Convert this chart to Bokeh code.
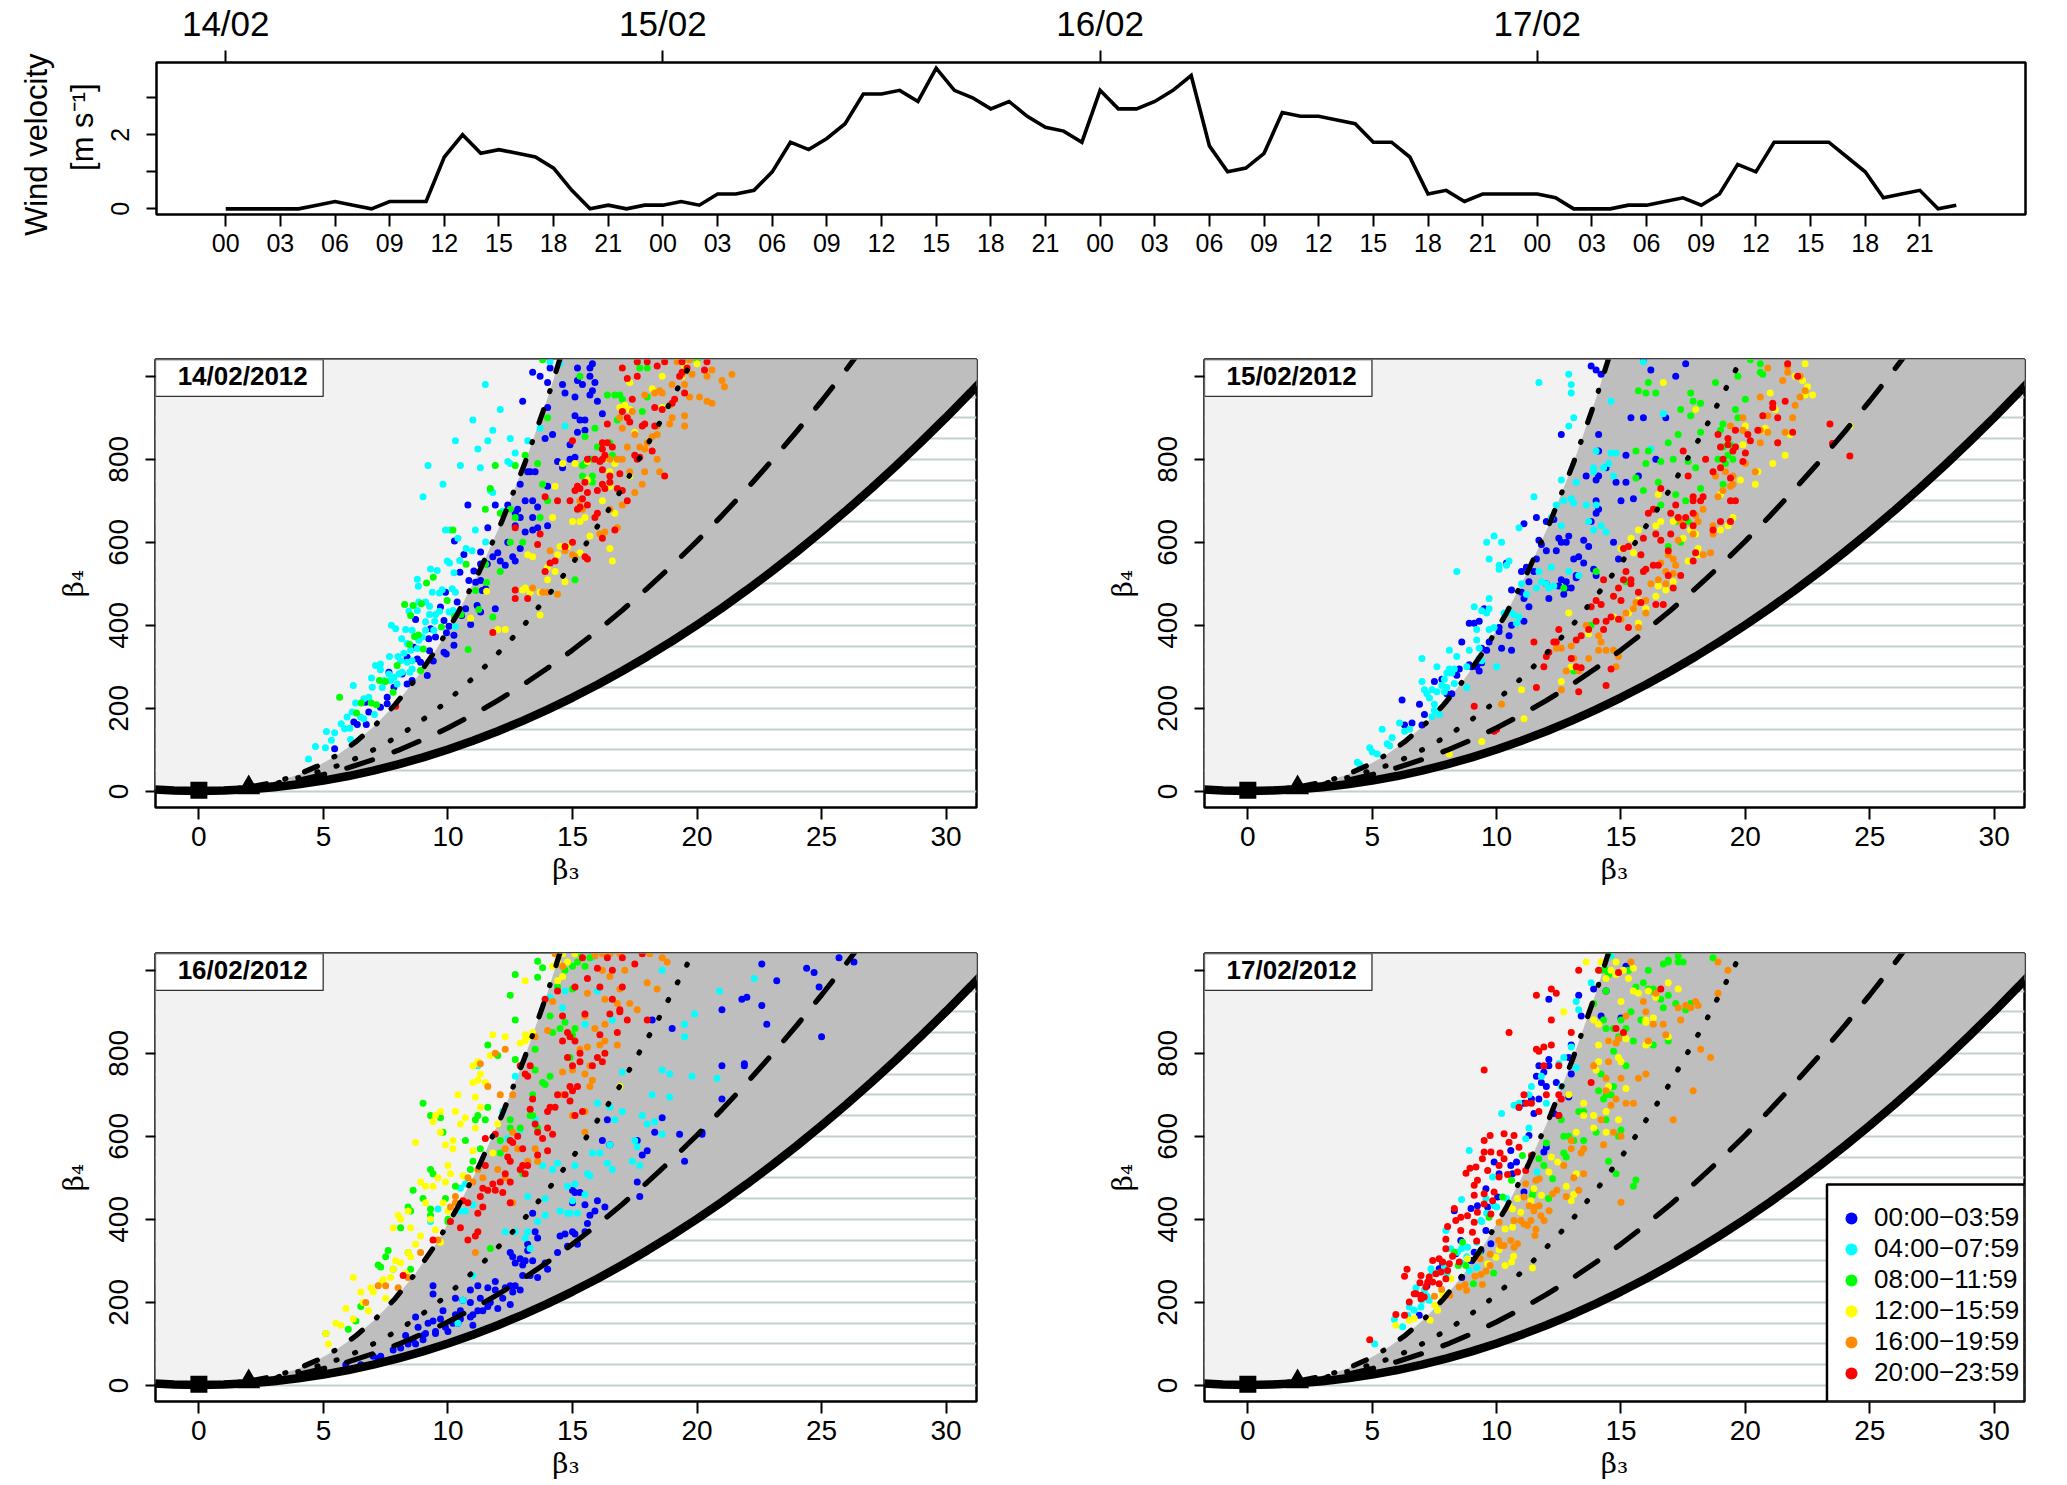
from bokeh.plotting import figure
from bokeh.models import Range1d, FixedTicker, LinearAxis, Label, Legend, LegendItem, Title
from bokeh.layouts import column, row
from bokeh.embed import file_html
from bokeh.resources import INLINE

# ---------- wind ----------
HOURS = list(range(96))
WIND = [0,0,0,0,0,.1,.2,.1,0,.2,.2,.2,1.4,2.0,1.5,1.6,1.5,1.4,1.1,.5,0,.1,0,.1,
        .1,.2,.1,.4,.4,.5,1.0,1.8,1.6,1.9,2.3,3.1,3.1,3.2,2.9,3.8,3.2,3.0,2.7,2.9,2.5,2.2,2.1,1.8,
        3.2,2.7,2.7,2.9,3.2,3.6,1.7,1.0,1.1,1.5,2.6,2.5,2.5,2.4,2.3,1.8,1.8,1.4,.4,.5,.2,.4,.4,.4,
        .4,.3,0,0,0,.1,.1,.2,.3,.1,.4,1.2,1.0,1.8,1.8,1.8,1.8,1.4,1.0,.3,.4,.5,0,.1]
HOUR_TICKS = list(range(0, 96, 3))
HOUR_LABELS = ["00","03","06","09","12","15","18","21"] * 4
DAY_TICKS = [0, 24, 48, 72]
DAY_LABELS = ["14/02", "15/02", "16/02", "17/02"]
WIND_TICKS = [0, 1, 2, 3]
PANEL_TITLES = ["14/02/2012", "15/02/2012", "16/02/2012", "17/02/2012"]
GROUPS = ["00:00\u221203:59","04:00\u221207:59","08:00\u221211:59","12:00\u221215:59","16:00\u221219:59","20:00\u221223:59"]
COLORS = ["#0000FF","#00FFFF","#00FF00","#FFFF00","#FF8C00","#FF0000"]

# ---------- reference curves ----------
BOUND_X = list(range(-2, 34))
BOUND_Y = [5,2,1,2,5,10,17,26,37,50,65,82,101,122,145,170,197,226,257,290,325,362,401,442,485,530,577,626,677,730,785,842,901,962,1025,1090]
LOGN_X = [0,.98,1.431,2.15,2.789,3.399,4,4.752,5.511,6.284,7.071,7.875,8.696,9.535,10.392,11.267,12.16,13.07,14,14.95]
LOGN_Y = [3,4.756,6.85,12.21,19.43,28.88,41,60.6,86.06,118.47,159,208.9,269.6,342.4,429,531,650,788,947,1129]
GAMMA_X = list(range(0, 28))
GAMMA_Y = [3,4.5,9,16.5,27,40.5,57,76.5,99,124.5,153,184.5,219,256.5,297,340.5,387,436.5,489,544.5,603,664.5,729,796.5,867,940.5,1017,1096.5]
DOT_X = [0,1,2,3,4,5,5.89,6.6,7.3,8,8.66,9.3,9.95,10.5,11.1,11.66,12.2,12.75,13.27,13.76,14.26,14.73,15.2,15.64,16.06,16.5,16.93,17.33,17.72,18.12,18.5,18.86,19.23,19.6,20]
DOT_Y = [3,5,10,18,33,51,68,88,109,133,159,186,216,246,278,311,345,380,416,453,490,528,566,605,644,683,724,765,806,847,888,930,972,1014,1058]
HATCH = list(range(0, 1000, 50))
MARK_X = [0]; MARK_Y = [3]
TRI_X = [2]; TRI_Y = [9]

# ---------- panel A: 14/02 ----------
A_CYAN = [(4.4,78),(4.68,108),(5.08,105),(5.32,123),(5.12,144),(5.45,141),(6.09,125),(5.71,163),(5.85,151),(6.06,152),(5.95,179),(6.15,191),(6.29,213),(6.2,255),(6.62,175),(6.49,179),(7.05,185),(6.62,223),(6.82,227),(6.93,273),(6.96,251),(7.36,250),(7.43,267),(7.09,303),(7.29,307),(7.29,293),(7.65,325),(7.99,325),(8.1,315),(8.23,333),(7.63,283),(7.83,275),(8.03,283),(8.16,287),(8.47,287),(8.56,295),(8.36,311),(8.56,315),(7.96,259),(7.69,267),(8.14,368),(8.36,356),(8.5,340),(8.77,344),(8.83,364),(8.97,372),(9.1,388),(9.43,388),(7.9,392),(7.73,400),(8.3,390),(8.56,388),(9.1,409),(9.26,426),(9.47,410),(9.5,426),(9.66,434),(10.04,432),(10.21,436),(8.43,434),(8.77,436),(9.26,446),(8.83,456),(9.1,456),(9.37,480),(9.66,478),(9.77,486),(10.17,488),(10.3,480),(8.77,511),(8.81,494),(9.3,536),(9.57,532),(9.97,555),(10.06,550),(10.24,527),(10.47,556),(10.73,585),(10.97,580),(11.51,601),(10.3,397),(9.9,630),(10.1,630),(10.4,610),(11.1,630),(9,710),(9.8,740),(9.2,785),(10.5,785),(11.3,780),(12.5,790),(10.3,845),(11.2,825),(11.6,845),(11.8,870),(12.5,850),(11,895),(12.1,920),(11.5,980),(12.7,815),(12.4,795),(11.8,720),(11.7,725),(12.2,675),(13.2,845),(13.7,875),(14.7,880),(14.5,1030),(14.1,1035)]
A_BLUE = [(5.45,103),(6.36,161),(6.72,161),(6.22,167),(6.82,191),(7.29,203),(7.56,211),(6.69,215),(7.63,287),(7.83,251),(7.56,227),(8.36,259),(8.56,267),(8.36,323),(8.16,283),(9.17,279),(9.41,314),(8.77,319),(8.9,311),(8.63,347),(9.26,339),(9.84,335),(9.93,331),(10.24,352),(8.7,414),(9.7,444),(9.84,412),(10.04,398),(9.94,382),(10.24,376),(9.3,392),(9.23,368),(9.5,372),(9.9,480),(10.37,456),(10.71,440),(10.55,424),(10.91,402),(11.17,448),(11.31,432),(10.64,571),(10.48,528),(11.04,531),(10.84,508),(11.11,504),(11.31,508),(11.51,488),(11.38,484),(10.26,603),(11.31,577),(11.58,548),(11.31,548),(11.9,440),(11.8,565),(12,575),(12.1,555),(12.3,545),(12.6,565),(12.7,555),(11.6,635),(12.4,600),(12.9,585),(12.7,640),(13.1,625),(13.4,630),(13.6,635),(14,640),(13.4,660),(13.1,700),(13.6,685),(12.4,690),(12.8,680),(12.7,670),(12.9,660),(10.8,690),(11.9,690),(13.4,700),(13.2,770),(13.5,770),(12.9,740),(14,735),(14.6,780),(14.9,800),(15.1,805),(13.3,770),(14.4,795),(15.7,800),(15.8,965),(15.7,955),(16.2,910),(15.7,1000),(15.4,980),(15.2,990),(15.2,1020),(14,985),(13.7,1000),(13.4,1010),(14.1,1020),(14.6,980),(15.1,950),(14.7,960),(15.5,895),(15.9,985),(15.7,1020),(15.8,1030),(14,925),(13,940),(14.2,860),(13.9,850),(14.9,835),(15.2,865),(15.5,870),(15.3,895),(15.1,905),(16,940)]
A_GREEN = [(5.65,227),(6.52,213),(6.33,189),(6.92,213),(7.13,209),(7.8,239),(7.25,267),(7.49,265),(7.96,303),(8.9,291),(9.01,343),(8.46,354),(8.66,373),(8.81,377),(9.74,396),(8.5,424),(8.26,450),(8.6,448),(8.93,452),(9.14,502),(9.41,516),(9.97,460),(10.53,426),(10.26,421),(11.24,438),(10.81,342),(11.11,484),(11.55,503),(10.73,547),(11.51,547),(11.8,420),(12.1,530),(10.2,630),(11.5,680),(12.1,670),(12.5,680),(12.7,660),(12.5,600),(13,600),(11.7,730),(11.9,785),(13.1,810),(12.7,785),(13.6,790),(13.8,740),(14,700),(13.7,660),(15.1,510),(15.5,790),(15.8,800),(16,830),(15.4,760),(15.4,785),(15.5,855),(15.9,875),(16.5,840),(16.6,810),(15.8,760),(15.8,745),(16.7,955),(16.4,955),(16.9,955),(17,945),(17.8,915),(16.8,895),(14,900),(15.3,1000),(17.6,1035),(17.7,1020),(18,1020),(18,950),(13.8,1040),(20,1040)]
A_YELLOW = [(11.55,482),(10.91,417),(12,390),(12.3,390),(13.7,425),(13,485),(13.3,480),(13.1,490),(13.7,480),(14,510),(14.7,505),(14,540),(14.3,530),(14.5,590),(14.8,590),(14.4,570),(13.4,565),(13.2,570),(15.3,575),(15.7,615),(16.5,585),(16.6,555),(15,650),(15.3,650),(14.2,660),(15.5,660),(16.7,670),(16.2,700),(16.5,770),(16.5,735),(15.6,750),(15.1,790),(14.6,790),(15.6,795),(14.3,735),(16.4,800),(16.7,790),(17.3,760),(17.3,920),(16.9,925),(17.1,930),(17.5,865),(18,840),(17.3,985),(18.2,970),(19.4,1000),(19.5,1025),(18.6,1000),(18.6,925),(20,1030)]
A_ORANGE = [(13.4,490),(13.8,480),(14,480),(14.4,475),(14.1,580),(14.7,580),(15,570),(15.1,565),(16.3,625),(16.1,620),(16.8,635),(15.4,680),(15.3,700),(16.5,680),(17,690),(17.5,720),(17.9,770),(17.8,740),(18.5,770),(18.4,800),(17.3,770),(16.8,800),(16.5,800),(17,800),(17.2,830),(17.7,830),(17.9,825),(18,840),(18.4,860),(18.2,855),(17.5,860),(17,875),(16.9,900),(17.4,915),(17.9,955),(18.3,960),(18.5,965),(18.4,880),(18.9,885),(19,900),(19.5,880),(19.5,905),(19.7,950),(18.9,930),(19.5,980),(20.1,950),(20.4,940),(20.6,935),(21,990),(21.1,975),(21.4,1005),(20.4,1000),(20.6,1015),(19.8,1005),(19.2,1035),(19.7,1040),(19,980),(19.4,1005),(18.6,960)]
A_RED = [(7.9,205),(11.8,383),(12.7,465),(12.7,485),(13.2,465),(13.9,530),(14.1,550),(14.3,555),(14.7,590),(15.5,565),(15.6,560),(15,600),(12.7,635),(13.6,595),(14.4,700),(13.9,710),(13.7,620),(15.3,685),(15.4,705),(15.2,680),(15.6,690),(16,670),(15.9,660),(16.2,610),(16.7,630),(14.9,700),(15.3,730),(15.5,745),(15.1,725),(15.2,735),(15.6,720),(16,725),(16.2,740),(16.3,730),(16.8,730),(16.5,745),(16.9,765),(17.2,700),(17,725),(15.6,800),(15.9,800),(16.1,795),(16.2,800),(15,845),(16.2,840),(16.2,825),(16.3,810),(16.4,840),(16.6,830),(16.2,775),(16.5,760),(17.5,810),(17.6,800),(17.7,805),(18.2,820),(18.7,760),(16.4,885),(17.3,890),(17.9,885),(17.8,880),(18.3,880),(17,915),(17.2,900),(17.4,945),(18.3,925),(18.6,920),(19,935),(19.5,960),(19.1,945),(17.2,995),(17.6,1000),(18,1035),(17,1020),(18.4,1025),(18.7,1035),(19.3,1000),(19.6,1020),(19.4,1035),(19.4,1010),(20.3,1015),(20.4,1035),(17.6,1035)]

# ---------- panel B: 15/02 ----------
B_CYAN = [(4.4,70),(4.5,65),(4.9,105),(5,95),(5.2,90),(5.4,150),(5.6,115),(5.7,110),(5.8,130),(6.1,165),(6.3,145),(6.5,150),(7,320),(7,265),(7.1,245),(7.2,235),(7.3,225),(7.4,245),(7.5,195),(7.4,180),(7.7,185),(7.5,210),(7.6,240),(7.8,255),(7.9,270),(8,250),(7.6,300),(7.9,240),(8,285),(8.1,295),(8.2,285),(8.4,325),(8.3,260),(8.8,250),(8.9,340),(8.8,300),(8.3,295),(8.4,530),(8.1,340),(9.1,445),(9.3,345),(9.3,320),(9.4,315),(9.2,365),(9.2,390),(9.4,435),(9.6,430),(9.7,440),(9.7,390),(9.9,395),(9.7,465),(10,300),(9.7,560),(9.6,600),(9.9,615),(10.2,600),(10.4,545),(10.5,555),(10.1,545),(10.1,535),(10.6,430),(10.7,425),(10.9,420),(10.3,430),(10.8,405),(11,500),(11.2,475),(11.5,710),(10.9,635),(11.6,490),(11.8,505),(12.1,490),(12,500),(11.7,530),(13.3,520),(12.3,495),(12.2,540),(12.9,530),(12.2,660),(12.4,690),(12.6,640),(12.7,700),(13,705),(13.1,695),(13.6,690),(14,690),(14.2,640),(13.7,650),(14.4,625),(13.9,630),(14,820),(13.9,780),(14.3,780),(14.5,790),(14.6,815),(14.7,760),(14.8,815),(13.9,770),(13.2,745),(12.6,750),(13.1,900),(13,960),(12.9,1005),(13,980),(12.9,880),(14.6,940),(16.2,825),(16.7,910),(15.9,1035),(11.7,985),(13.9,1050)]
B_BLUE = [(6.2,220),(6.3,160),(6.6,165),(6.9,210),(7,160),(7.1,185),(7.5,265),(7.8,270),(8,235),(8.2,235),(8.4,280),(8.5,295),(8.6,360),(8.9,405),(9.3,410),(8.9,305),(9.2,300),(9.3,290),(9.4,310),(9,300),(9.4,345),(9.5,440),(9.1,405),(9.6,340),(9.7,360),(10.1,395),(10.1,385),(10.2,345),(10.6,340),(10.5,375),(10.6,400),(11,480),(10.4,550),(11,530),(10.6,485),(11.1,465),(11.3,445),(11.1,410),(11.3,505),(11.2,540),(11.5,530),(11.8,595),(12,580),(11.6,560),(12,500),(12.1,465),(12,650),(12.3,655),(11.1,645),(11.6,660),(11.7,605),(12.4,580),(12.5,495),(12.8,505),(13,490),(13.1,560),(13.5,550),(13.7,590),(13.2,515),(13.2,520),(12.6,510),(12.7,475),(12.8,490),(12.5,610),(12.6,600),(12.8,600),(12.9,615),(13.5,605),(13.3,565),(13.8,650),(14,700),(14,670),(14,750),(14.1,680),(13.6,760),(14.1,760),(15,700),(14.8,745),(14.4,780),(14.1,820),(15.2,810),(15.7,760),(16.4,800),(15.5,705),(15.2,745),(14.7,600),(14.9,560),(13.9,535),(14,520),(12.6,860),(14.1,860),(15.4,900),(15.9,900),(16.2,1015),(16.8,900),(17.2,1000),(17.6,1030),(15.9,1040),(14,1015),(13.8,1025),(14.2,1005)]
B_GREEN = [(12.7,490),(13.1,290),(13.8,400),(14,530),(15.2,505),(15.6,755),(16,790),(15.6,820),(16.1,820),(16.5,745),(16.6,795),(17.1,800),(17.2,715),(17.6,700),(17.7,650),(17.4,600),(16.9,590),(17.2,650),(16.6,690),(15.9,725),(16.9,840),(17.3,860),(17.7,795),(18.2,730),(18,780),(18.9,800),(19.2,790),(19.1,740),(19.3,810),(19.5,800),(19.1,830),(19.1,885),(18.2,865),(18,920),(17.8,905),(17.4,920),(18.2,935),(17.9,940),(17.8,960),(16.1,985),(16,960),(15.7,965),(16.4,960),(18.8,985),(19.7,1000),(19.6,920),(20,945),(19.7,900),(20.7,1005),(20.6,1030),(20.2,1040),(20.6,1010),(19.4,835),(19,870)]
B_YELLOW = [(8.1,90),(9.4,120),(11.1,175),(11,245),(12.6,265),(13,300),(13.7,380),(12.9,430),(14.7,420),(15.7,405),(16,440),(15.3,430),(16.4,470),(15.7,460),(16.5,495),(16.8,485),(17.1,505),(15.7,630),(15.5,575),(15,585),(16.6,650),(16.4,640),(17.7,555),(17.1,650),(17.5,610),(17.8,630),(18,620),(18.1,585),(18.1,570),(19,630),(19.3,640),(19.5,660),(19,715),(19.8,750),(20.4,740),(20.5,770),(21.1,790),(21.6,810),(20.7,870),(21.2,920),(21,960),(19.9,835),(20,880),(20.8,875),(22.4,955),(22.5,975),(22.3,990),(22.7,955),(24.2,880),(21.8,860),(22,1000),(22.4,1030),(16.7,985),(18,920),(16.5,715),(15.4,610)]
B_ORANGE = [(10.2,210),(12.6,245),(12.8,290),(12.4,345),(12.6,345),(13,350),(13.1,320),(13.3,290),(13.7,320),(13.6,400),(14.2,360),(14.1,340),(14.4,340),(14.7,340),(14.9,325),(14.8,300),(14.1,375),(15,415),(15.5,440),(15.2,430),(16,430),(15.7,395),(15.6,455),(16.2,500),(16,460),(16.8,500),(17.1,525),(16.5,510),(16.8,530),(16.6,550),(17.1,560),(16.9,570),(17.3,605),(17.9,620),(18.3,570),(18.6,575),(18.7,620),(18.1,650),(18,665),(18.3,680),(18.9,710),(19.1,725),(18.7,640),(19.5,740),(19.5,760),(19.2,770),(19.4,735),(20.4,770),(20,790),(20.6,840),(18.8,760),(19.4,880),(19.9,870),(20.9,865),(21.3,840),(21.6,865),(22,930),(21.9,900),(22.2,950),(22.4,965),(22.2,1000),(21.5,990),(21.7,1010),(20.9,1020),(21.7,1025),(20.6,950),(20.9,905),(19.9,900),(20.6,870),(17.2,545),(17.4,650),(17.3,660)]
B_RED = [(9.1,205),(10,150),(9.9,145),(11.6,250),(11.9,300),(12,325),(12.1,335),(11.5,360),(12.3,360),(12.4,360),(13,320),(13.2,300),(13.4,298),(13.3,240),(13.2,365),(13.4,375),(12.5,390),(13.7,390),(14,410),(14.3,390),(14.6,295),(14.4,255),(14,460),(14.2,450),(13.8,445),(14.4,410),(14.6,420),(14.9,415),(14.9,490),(14.7,470),(14.3,510),(15,460),(15.1,510),(15.2,530),(15.4,500),(15.4,510),(15.7,480),(15.8,455),(15.3,395),(16.4,450),(16.7,450),(17.1,490),(16.9,520),(17.4,520),(16.3,545),(15.9,530),(16.5,545),(16,535),(16.6,605),(16.9,580),(15.1,585),(15.3,590),(15.8,570),(15.9,610),(16.4,620),(17,620),(17.3,660),(17.6,660),(17.9,670),(17.5,640),(17.9,640),(18,575),(17.9,555),(18.7,630),(17,670),(16.1,670),(16.3,680),(17.9,700),(18.2,700),(18.3,710),(17.2,690),(17.7,760),(17.9,710),(18.7,770),(19,780),(19.4,755),(19.4,700),(19.6,700),(19,650),(19.4,650),(19.1,800),(19.5,820),(18.4,800),(19,830),(19.6,830),(20,815),(19.9,795),(18.9,860),(19.3,850),(19.3,835),(19.6,870),(20.2,845),(20.1,860),(20.5,870),(20.7,905),(21.3,900),(21.1,925),(21.1,935),(21.6,940),(23.4,885),(24.2,808),(23.5,838),(21.9,865),(21.3,840),(22.1,1000),(21.7,1030),(17.5,820),(16.6,730)]

# ---------- panel C: 16/02 ----------
C_BLUE = [(5.9,50),(6.2,40),(6.5,50),(7,70),(7.2,65),(7.3,70),(7.8,85),(8.1,90),(8.4,100),(8.3,120),(8.6,110),(8.7,100),(9,120),(9,110),(9.1,125),(8.8,140),(8.7,165),(9.2,150),(9.5,125),(9.4,155),(9.7,160),(9.8,180),(9.9,140),(10,130),(9.5,130),(10.2,150),(10.4,150),(10.5,180),(10.6,205),(10.3,170),(10.5,160),(10.9,165),(11,145),(11,170),(11.2,180),(11.4,180),(11.6,190),(11.7,200),(11.3,210),(11.6,235),(11.9,230),(11.9,250),(12,185),(12.2,210),(12.5,195),(12.6,225),(12.3,235),(12.5,240),(12.7,240),(12.9,230),(13,290),(12.9,305),(13.1,300),(13,265),(13.3,265),(13.4,300),(13.2,325),(12.6,310),(12.7,295),(12.5,320),(13.2,340),(13.5,370),(13.6,355),(13.9,295),(14,280),(13.6,260),(14.4,320),(14.8,335),(14.7,365),(14.5,360),(15,370),(15.2,340),(15.1,365),(15.5,370),(15.6,390),(15,440),(15,470),(15.1,465),(15.3,465),(15.9,420),(15.7,410),(15.5,435),(16,445),(16.3,430),(10.3,210),(9.4,240),(9.4,220),(10.9,230),(10.9,200),(11.2,240),(13.4,415),(17.7,455),(17.6,490),(19.5,540),(18,565),(17.6,590),(17.8,555),(16.2,590),(16.5,580),(16.4,640),(18.3,610),(19.3,605),(20.2,605),(20.2,610),(18.6,645),(21,690),(18.2,880),(21,770),(21.9,770),(21.9,775),(21,905),(21.8,930),(22,935),(22.6,915),(19,860),(22.8,870),(25,840),(23.2,975),(22.6,1015),(24.9,960),(24.4,1005),(24.7,995),(25.7,1030),(26.3,1020)]
C_CYAN = [(9.3,395),(9.6,425),(10.5,420),(11,435),(10.7,420),(10.5,475),(10.7,485),(12.7,370),(13.2,370),(13.9,410),(14.5,420),(14.8,415),(15.2,415),(15.5,460),(13.6,395),(13.1,355),(10.4,150),(10.6,205),(12.3,370),(11,265),(13.3,330),(13.2,455),(13.9,450),(14.2,520),(14.4,535),(14.8,480),(15.1,485),(15.7,505),(15.6,510),(15.1,530),(16.1,560),(16.4,535),(16.6,520),(16.5,580),(15.8,560),(17.7,530),(17.6,575),(17.4,540),(17.5,590),(16.5,670),(16,680),(16.7,640),(17,660),(18,630),(18.6,605),(17.8,650),(18.3,635),(18.9,750),(18.2,700),(18.9,695),(19.8,745),(17,755),(18.6,760),(19.5,870),(19.9,895),(19.5,840),(20.9,950),(22.3,980),(20.8,740),(12.7,745),(11.2,770),(12.2,660),(12.4,595),(13.5,640),(13.8,530),(15,445),(14.9,415),(14.4,960),(14.1,935),(14.7,950),(16,950),(15.8,1030),(18.6,1000),(16.6,880),(12.9,615),(15.5,870),(14.6,910)]
C_GREEN = [(5.1,125),(6,135),(6.3,155),(6.5,190),(7.2,290),(7.3,285),(7.5,310),(7.6,325),(7.8,280),(8.1,380),(8.5,280),(8.4,320),(8.4,430),(8.5,420),(8.6,470),(9.3,520),(9.4,510),(9,450),(9.3,425),(9.3,410),(9.9,450),(10,395),(9,680),(9.3,650),(9.7,645),(9.8,610),(10,400),(10.3,480),(10.7,590),(10.9,520),(11,540),(11.1,640),(11.5,640),(11.3,570),(11.2,650),(12.1,560),(11.6,670),(12.1,590),(12.5,640),(12.5,620),(12.9,620),(13.3,650),(13.4,650),(13.6,620),(13,510),(13.4,700),(13.8,730),(13.9,725),(14.1,745),(11.7,330),(11.6,820),(12,795),(12.7,785),(13.5,810),(14.9,790),(14.2,850),(14.5,860),(15.1,860),(14.7,875),(12.5,940),(12.7,880),(12.7,990),(13.6,1022),(13.8,1006),(13.6,983),(14.7,1000),(15,1010),(15.2,1020),(15.5,1010),(15.7,1030),(15.3,1040),(15,955),(14.4,960),(14.1,890),(15,845),(13.5,760)]
C_YELLOW = [(5.1,125),(5.2,100),(5.5,150),(5.7,145),(5.9,185),(6.2,160),(6.2,260),(6.5,225),(6.6,200),(6.8,180),(6.9,235),(7,225),(7.3,245),(7.4,255),(7.5,210),(7.7,260),(7.8,280),(7.9,300),(8.1,295),(8.3,270),(8.4,320),(8.5,310),(7.8,380),(8,410),(8.1,400),(8.4,420),(8.5,380),(8.7,340),(8.9,360),(8.9,490),(9.1,440),(9.3,400),(9.5,375),(9.7,345),(9.1,480),(9.4,480),(9.8,440),(9.9,490),(10,420),(10.1,510),(10,530),(9.6,500),(10.2,570),(10.6,505),(11,565),(8.7,585),(9.4,635),(9.7,610),(9.9,580),(10.3,660),(10.5,630),(10.7,645),(11.1,620),(10.2,590),(11.1,695),(11.3,670),(11,730),(11.2,735),(11.5,730),(10.4,700),(9.5,650),(9.7,660),(11,770),(11.2,775),(11.2,780),(11.7,795),(11.3,750),(11.8,845),(12.3,840),(13.2,840),(12.9,825),(13.1,830),(13.4,850),(13.1,975),(14.2,1010),(14.4,975),(14.4,1020),(14.8,1020),(15.1,1040),(14.6,1040),(16.9,720),(11.8,560),(13.1,845),(12,630),(14.6,985)]
C_ORANGE = [(6.7,200),(7.2,240),(7.5,240),(8,235),(8.4,260),(8.9,320),(9.6,350),(10.1,430),(10.3,455),(10.3,440),(10.8,500),(11,490),(11.2,520),(11.4,500),(11.1,320),(12,520),(12.6,440),(12.3,500),(12.8,570),(12.6,610),(13.2,540),(13.6,540),(13.5,570),(12.3,570),(12.1,700),(12.6,700),(11.3,775),(11.9,800),(12.3,810),(11.6,720),(13.5,840),(14,855),(14.6,755),(15,760),(15.5,750),(15.7,720),(15.3,810),(15.5,890),(15.9,860),(16.1,820),(16.3,830),(16.3,870),(16.8,820),(15.6,815),(15.8,735),(15.5,660),(15,650),(15.5,610),(15.7,770),(14.6,700),(14.2,925),(15.6,945),(16.3,930),(16.9,955),(17.1,1000),(16.5,985),(17.3,920),(17.6,905),(18,970),(18.4,955),(18.6,1030),(18.8,1020),(18.1,1040),(16.5,1040),(16.9,1040),(16.2,1040),(15.9,1035),(14.6,1010),(16.2,1000),(14.3,1040),(16.8,920)]
C_RED = [(8.2,265),(9.4,350),(10.1,395),(10.5,380),(10.8,350),(11.1,360),(11.2,370),(10.6,445),(10.8,440),(11.2,415),(11.3,455),(11.4,475),(11.6,470),(11.4,430),(11.8,485),(11.9,470),(12.2,465),(12.5,490),(12.5,440),(12.1,490),(12.3,510),(11.5,530),(11.5,595),(11.9,605),(12.4,550),(12.5,540),(12.5,590),(12.8,600),(12.9,520),(13,530),(13.1,510),(13.2,530),(13,570),(12.6,585),(13.6,555),(13.8,595),(14,620),(14,565),(14.2,605),(13.5,630),(13.6,610),(13.4,690),(13.3,665),(14,660),(14.1,670),(14.3,670),(14.4,700),(14.7,700),(14.9,685),(15,710),(15.2,720),(14.9,720),(15.4,660),(15.1,650),(13.2,745),(13.1,750),(12.9,770),(13.3,770),(14.8,790),(15,770),(15.3,780),(15.8,770),(16,790),(16.2,780),(16.3,800),(15.1,830),(14.6,830),(14.8,850),(14.9,840),(15.3,800),(16.1,845),(16.8,850),(15.5,895),(16.5,895),(16.9,905),(16.1,960),(16.6,930),(17,960),(16,1005),(17,1030),(17.5,1015),(16.4,1030),(17.8,1040),(16.6,1000),(15.4,1030),(15.6,980),(14.4,950),(13.9,930),(14.6,890),(16.9,900),(17.2,880),(18,880),(15.1,960)]

# ---------- panel D: 17/02 ----------
D_BLUE = [(6.89,169),(7.69,281),(8.3,421),(9.57,474),(10.57,566),(10.8,538),(11.3,602),(11.9,562),(12,574),(9.9,538),(10.1,510),(10.57,530),(10.64,510),(11.1,466),(8.97,426),(9.23,433),(9.37,325),(9.77,341),(8.97,301),(7.83,293),(8.36,317),(9.57,373),(9.1,321),(8.56,349),(9.64,430),(10.04,454),(7.2,240),(8.6,260),(9,300),(12.3,655),(12.5,650),(11.5,655),(11.1,680),(11.7,690),(10.9,670),(11.8,730),(11.9,755),(11.6,745),(12,720),(12.1,785),(12.1,770),(12.9,790),(13,820),(13,750),(13.4,890),(13.3,940),(12.1,930),(13.9,955),(14.4,950),(14.2,890),(15,885),(15.2,1010),(12.9,695),(11.4,690),(12.4,730),(11.7,770)]
D_CYAN = [(5.1,100),(6.49,189),(6.69,181),(6.22,141),(5.89,159),(6.42,169),(6.96,189),(7.29,205),(6.76,235),(7.36,281),(7.96,373),(8.16,329),(8.43,321),(8.9,277),(9.2,284),(8.83,333),(9.37,397),(9.9,433),(9.57,450),(8.9,566),(8.59,448),(9.84,502),(11.17,594),(11.62,514),(7,205),(7.2,215),(7.1,230),(7.4,270),(7.6,270),(7.9,285),(8,270),(8.6,295),(8.8,310),(8.6,330),(9.2,345),(9.4,395),(9.6,415),(10,430),(10.4,450),(10.9,680),(10.2,655),(10.7,675),(11.3,700),(11.4,720),(11.8,745),(12.7,790),(13.2,765),(12,680),(12.6,720),(13,815),(12.5,775),(13.2,925),(13.3,905),(13.8,970),(14.6,1035),(11.3,620)]
D_GREEN = [(10.24,454),(10.6,494),(11.04,554),(11.7,546),(11.9,530),(12,584),(11.44,458),(9.7,405),(8.63,345),(8.3,321),(8.77,289),(8.46,289),(9.3,321),(9.88,271),(9.07,245),(12.25,498),(12.09,450),(11.48,470),(12.7,600),(12.8,550),(12.7,560),(12.6,640),(12.9,600),(13.1,590),(13.3,660),(13.5,660),(13.5,590),(14,610),(14.4,640),(14.9,600),(15,615),(14.5,540),(14.8,510),(15.5,480),(15.6,495),(14.3,690),(14.4,700),(14.1,710),(14.6,700),(14.2,750),(14.7,720),(14.7,805),(15.2,770),(14.9,840),(15.2,860),(14.3,880),(14.4,860),(14.7,860),(15,880),(13.9,920),(14.4,950),(14.4,1000),(15.3,1000),(14.5,1040),(15.6,960),(16.3,955),(16.6,930),(15.9,970),(16.1,955),(16.9,940),(17.2,920),(16.7,910),(17.8,920),(17.6,905),(16.7,1015),(17.3,1035),(16.9,1025),(17.5,1020),(17.3,1020),(18.7,1030),(16.9,1020),(16.1,1000),(16.3,820),(16.9,830),(15.5,830),(15.8,880),(14.5,990),(14.2,1000),(15.4,900),(16.2,950)]
D_YELLOW = [(5.95,145),(6.49,157),(6.69,162),(7.33,157),(7.52,193),(7.63,181),(8.16,257),(7.83,221),(7.83,209),(8.83,305),(9.64,293),(10.34,289),(10.6,297),(10.68,311),(10.34,377),(10.64,381),(10.84,450),(10.5,433),(10.64,425),(10.97,417),(11.38,445),(11.8,458),(11.5,474),(12.1,514),(12.2,550),(12.45,538),(11.44,283),(9.97,309),(10.1,327),(13,445),(12.8,480),(13.2,510),(13.1,460),(13.2,610),(13.5,650),(12.9,700),(13.5,680),(13.9,650),(13.9,620),(14.4,610),(14.9,640),(14.4,660),(14.1,780),(14.5,720),(14,760),(14.9,790),(15,780),(15.2,715),(15.2,835),(16,820),(16,875),(16,880),(15,925),(15.3,980),(15.7,945),(16.1,950),(16.9,970),(17.3,955),(16.3,885),(16.9,840),(16.1,825),(14.1,820),(14.1,870),(13.9,880),(14.5,830),(13.6,1020),(14.2,1020),(14.8,1020),(15.1,1000),(15.5,950),(14.8,990),(14.4,980),(15.5,1005),(14.6,1000),(16.4,935),(12.7,900)]
D_ORANGE = [(7.5,215),(7.79,231),(8.12,217),(8.5,237),(8.73,243),(8.79,229),(9.43,243),(9.13,263),(9.37,267),(9.57,275),(9.74,289),(9.74,316),(9.34,305),(10.1,393),(10.17,337),(10.3,337),(10.7,333),(10.84,341),(10.57,349),(10.08,349),(10.7,397),(10.97,397),(11.1,389),(11.24,385),(11.38,397),(11.5,421),(11.78,409),(11.91,397),(11.54,361),(11.58,376),(12.11,421),(11.31,433),(11.51,429),(11.71,433),(11.1,454),(11.17,486),(11.71,498),(11.58,494),(12.25,462),(12.42,470),(12.8,455),(13.1,500),(13.5,510),(13.3,470),(12.7,530),(13,570),(13.4,560),(13,590),(13.5,570),(14.3,580),(14.7,610),(15,600),(14.6,675),(14.2,640),(15,740),(15.2,680),(15.5,680),(14.8,690),(14.5,780),(14.4,740),(14.5,830),(14.8,825),(15.2,890),(15.9,925),(16,900),(16.1,830),(16.3,870),(16.4,945),(16.7,870),(17.3,910),(17.6,915),(17.8,910),(18,925),(18.1,915),(17.4,880),(18.2,810),(18.6,790),(18.9,945),(19.3,1000),(18.9,1020),(17.9,710),(17.1,640),(16,750),(15.7,740),(14.4,710),(15,441),(13.9,770),(15.4,1020),(16.8,845),(14.9,835)]
D_RED = [(4.9,110),(6.4,280),(6.3,263),(5.95,171),(6.3,169),(6.49,201),(6.69,221),(6.96,217),(7.09,213),(6.96,265),(6.92,247),(7.16,237),(7.29,261),(7.43,249),(7.56,269),(7.76,273),(7.43,301),(7.69,305),(7.96,329),(8.1,293),(7.96,352),(8.23,311),(8.5,297),(8.03,383),(8.36,397),(8.56,405),(8.83,409),(9.1,393),(9.23,417),(9.5,437),(9.03,369),(9.2,348),(8.56,373),(9.77,413),(9.9,466),(9.5,462),(9.84,445),(9.1,482),(9.1,458),(9.23,494),(8.77,511),(8.93,523),(9.17,526),(9.64,518),(10.1,502),(10.44,508),(9.5,562),(9.43,546),(9.77,562),(10.14,560),(10.3,546),(10.1,530),(9.5,590),(9.74,602),(10.3,606),(10.5,586),(10.7,602),(10.9,574),(11.17,518),(11.4,554),(10.84,514),(8.3,426),(7.23,249),(7.69,245),(7.96,257),(8.03,277),(6.76,221),(6.96,209),(7.83,297),(9.5,760),(10.9,670),(11.2,680),(11.4,680),(11.1,700),(11.7,660),(12,700),(12.5,700),(12.6,690),(12.5,650),(11.9,770),(12.5,770),(11.6,810),(11.9,815),(12.2,820),(11.6,940),(12.2,955),(12.4,945),(12.2,880),(13,850),(10.5,850),(13.8,730),(14.9,995),(14.8,860),(13.3,1000),(14.1,1000),(16.6,955),(15.1,850),(11.7,805)]

P_XLIM = (-1.742, 31.22)
P_YLIM = (-38.8, 1040.5)
P_XTICKS = [0, 5, 10, 15, 20, 25, 30]
P_YTICKS = [0, 200, 400, 600, 800, 1000]
FONT = "Liberation Sans"
SERIF = "DejaVu Serif"
INK = "#000000"


def style_axis(ax, size, standoff, tick=12):
    ax.major_label_text_font = FONT
    ax.major_label_text_font_size = size
    ax.major_label_text_color = INK
    ax.major_label_standoff = standoff
    ax.major_tick_in = 0
    ax.major_tick_out = tick
    ax.major_tick_line_color = INK
    ax.major_tick_line_width = 2
    ax.minor_tick_line_color = None
    ax.axis_line_color = None
    ax.axis_label_text_font_style = "normal"


# ---------- top panel ----------
top = figure(width=2048, height=300, output_backend="svg", toolbar_location=None,
             x_range=Range1d(-3.8, 98.8), y_range=Range1d(-0.152, 3.952),
             min_border_left=156, min_border_right=23, min_border_top=62, min_border_bottom=86)
top.grid.visible = False
top.outline_line_color = INK
top.outline_line_width = 2.5
top.line(HOURS, WIND, line_color=INK, line_width=3.6, line_join="miter")
xa = top.xaxis[0]
xa.ticker = FixedTicker(ticks=HOUR_TICKS)
xa.major_label_overrides = dict(zip(HOUR_TICKS, HOUR_LABELS))
style_axis(xa, "25px", 7)
ya = top.yaxis[0]
ya.ticker = FixedTicker(ticks=WIND_TICKS)
ya.major_label_overrides = {0: "0", 1: "", 2: "2", 3: ""}
ya.major_label_orientation = "vertical"
style_axis(ya, "25px", 17, tick=10)
above = LinearAxis(ticker=FixedTicker(ticks=DAY_TICKS),
                   major_label_overrides=dict(zip(DAY_TICKS, DAY_LABELS)))
style_axis(above, "35px", 8)
top.add_layout(above, "above")
for txt, off, gap in (("[m s\u207b\u00b9]", 21, 18), ("Wind velocity", -9, 0)):
    top.add_layout(Title(text=txt, align="right", offset=off, standoff=gap, text_font=FONT,
                         text_font_size="31px", text_font_style="normal", text_color=INK), "left")


def panel(title, series, left, right, top_b, bottom_b, width, height, legend=False):
    p = figure(width=width, height=height, output_backend="svg", toolbar_location=None,
               x_range=Range1d(*P_XLIM), y_range=Range1d(*P_YLIM),
               min_border_left=left, min_border_right=right,
               min_border_top=top_b, min_border_bottom=bottom_b)
    p.grid.visible = False
    p.outline_line_color = INK
    p.outline_line_width = 2.5
    p.hspan(y=HATCH, line_color="#C3D0CE", line_width=2.2)
    p.varea(x=BOUND_X, y1=BOUND_Y, y2=[1200] * len(BOUND_X), fill_color="#F2F2F2")
    gx = LOGN_X + [33] + BOUND_X[:1:-1]
    gy = LOGN_Y + [1129] + BOUND_Y[:1:-1]
    p.patch(gx, gy, fill_color="#BEBEBE", line_color=None)
    rs = []
    for pts, c in zip(series, COLORS):
        rs.append(p.scatter([a for a, _ in pts], [b for _, b in pts], size=7, marker="circle",
                            fill_color=c, line_color=None))
    p.line(GAMMA_X, GAMMA_Y, line_color=INK, line_width=5.2, line_dash="27 23", line_cap="round")
    p.line(LOGN_X, LOGN_Y, line_color=INK, line_width=5.2, line_dash="14 19 1 20", line_cap="round")
    p.line(DOT_X, DOT_Y, line_color=INK, line_width=5.2, line_dash="1 19", line_cap="round")
    p.line(BOUND_X, BOUND_Y, line_color=INK, line_width=8.5)
    p.scatter(MARK_X, MARK_Y, marker="square", size=17, fill_color=INK, line_color=None)
    p.scatter(TRI_X, TRI_Y, marker="triangle", size=23, fill_color=INK, line_color=None)
    xa = p.xaxis[0]
    xa.ticker = FixedTicker(ticks=P_XTICKS)
    style_axis(xa, "28px", 7)
    xa.axis_label = "\u03b2\u2083"
    xa.axis_label_text_font = SERIF
    xa.axis_label_text_font_size = "28px"
    xa.axis_label_text_color = INK
    xa.axis_label_standoff = 4
    ya = p.yaxis[0]
    ya.ticker = FixedTicker(ticks=P_YTICKS)
    ya.major_label_overrides = {1000: ""}
    ya.major_label_orientation = "vertical"
    style_axis(ya, "28px", 17, tick=10)
    ya.axis_label = "\u03b2\u2084"
    ya.axis_label_text_font = SERIF
    ya.axis_label_text_font_size = "28px"
    ya.axis_label_text_color = INK
    ya.axis_label_standoff = 17
    # date box
    p.quad(left=[P_XLIM[0]], right=[4.99], bottom=[951.6], top=[P_YLIM[1]],
           fill_color="#FFFFFF", line_color="#333333", line_width=1.3)
    p.add_layout(Label(x=1.76, y=1001, text=title, text_align="center", text_baseline="middle",
                       text_font=FONT, text_font_style="bold", text_font_size="26px", text_color=INK))
    if legend:
        p.quad(left=[23.28], right=[P_XLIM[1]], bottom=[P_YLIM[0]], top=[484],
               fill_color="#FFFFFF", line_color=INK, line_width=2.5)
        lg = Legend(items=[LegendItem(label=g, renderers=[r]) for g, r in zip(GROUPS, rs)],
                    location=(632, 13), margin=0, padding=7, spacing=0,
                    glyph_width=30, glyph_height=30, label_height=30, label_standoff=8,
                    label_text_font=FONT, label_text_font_size="26px", label_text_color=INK,
                    border_line_color=None, background_fill_alpha=0)
        p.add_layout(lg)
    return p


pA = panel(PANEL_TITLES[0], [A_BLUE, A_CYAN, A_GREEN, A_YELLOW, A_ORANGE, A_RED], 155, 84, 59, 86, 1060, 593)
pB = panel(PANEL_TITLES[1], [B_BLUE, B_CYAN, B_GREEN, B_YELLOW, B_ORANGE, B_RED], 144, 24, 59, 86, 988, 593)
pC = panel(PANEL_TITLES[2], [C_BLUE, C_CYAN, C_GREEN, C_YELLOW, C_ORANGE, C_RED], 155, 84, 60, 84, 1060, 592)
pD = panel(PANEL_TITLES[3], [D_BLUE, D_CYAN, D_GREEN, D_YELLOW, D_ORANGE, D_RED], 144, 24, 60, 84, 988, 592, legend=True)

page = column(top, row(pA, pB, spacing=0), row(pC, pD, spacing=0), spacing=0)
open("out.html", "w").write(file_html(page, INLINE))
